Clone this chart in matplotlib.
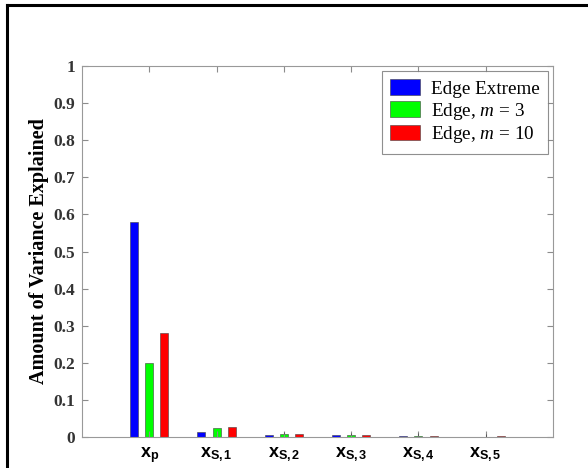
import numpy as np
import matplotlib
matplotlib.use('Agg')
import matplotlib.pyplot as plt
from matplotlib.lines import Line2D

## fonts: serif for numbers/legend, sans bold for the x tick labels
plt.rcParams['font.family'] = 'Liberation Serif'
plt.rcParams['mathtext.fontset'] = 'custom'
plt.rcParams['mathtext.bf'] = 'Liberation Sans:bold'
plt.rcParams['mathtext.it'] = 'Liberation Serif:italic'
plt.rcParams['mathtext.rm'] = 'Liberation Serif'

## data
categories = [r'$\mathbf{x}_{\mathbf{p}}$', r'$\mathbf{x}_{\mathbf{S,1}}$', r'$\mathbf{x}_{\mathbf{S,2}}$',
              r'$\mathbf{x}_{\mathbf{S,3}}$', r'$\mathbf{x}_{\mathbf{S,4}}$', r'$\mathbf{x}_{\mathbf{S,5}}$']
edge_extreme = [0.58, 0.014, 0.006, 0.005, 0.002, 0.001]
edge_m3      = [0.20, 0.025, 0.008, 0.006, 0.004, 0.001]
edge_m10     = [0.28, 0.028, 0.008, 0.005, 0.004, 0.004]
m3_err       = [0.0, 0.0, 0.006, 0.006, 0.006, 0.008]
series_names = ['Edge Extreme', r'Edge, $m$ = 3', r'Edge, $m$ = 10']
yticks = np.arange(0, 1.01, 0.1)
ytick_labels = ['0', '0.1', '0.2', '0.3', '0.4', '0.5', '0.6', '0.7', '0.8', '0.9', '1']

x = np.arange(1, len(categories)+1)
w = 0.12   # bar width
off = 0.225  # group offset

fig = plt.figure(figsize=(5.88, 4.68), dpi=100)
ax = fig.add_axes([0.1395, 0.0662, 0.801, 0.7927])

ax.bar(x-off, edge_extreme, w, color='#0000ff', edgecolor='0.25', lw=0.4, label=series_names[0])
ax.bar(x, edge_m3, w, color='#00ff00', edgecolor='0.25', lw=0.4, label=series_names[1])
ax.bar(x+off, edge_m10, w, color='#ff0000', edgecolor='0.25', lw=0.4, label=series_names[2])
ax.errorbar(x, edge_m3, yerr=[np.zeros(len(x)), m3_err], fmt='none', ecolor='0.3', lw=0.6, capsize=0)

ax.set_xlim(0, 7)
ax.set_ylim(0, 1)
ax.set_xticks(x)
ax.set_xticklabels(categories, fontsize=13)
ax.set_yticks(yticks)
ax.set_yticklabels(ytick_labels, fontsize=12.5, fontweight='bold', color='0.2')
ax.tick_params(direction='in', top=True, right=True, color='0.55', length=4)
ax.tick_params(axis='x', pad=6)
ax.tick_params(axis='y', pad=5)
for s in ax.spines.values():
    s.set_color('0.6')
ax.set_ylabel('Amount of Variance Explained', fontsize=14.5, fontweight='bold', labelpad=3)

leg = ax.legend(loc='upper right', fontsize=13.8, frameon=True, fancybox=False,
                handlelength=1.55, handleheight=0.85, borderpad=0.45, labelspacing=0.15,
                handletextpad=0.57, borderaxespad=0.25)
leg.get_frame().set_edgecolor('0.45')
leg.get_frame().set_linewidth(0.8)

## outer black frame (left and top edges visible)
fig.add_artist(Line2D([7/588, 7/588], [0, 1-5/468], color='black', lw=2.2, transform=fig.transFigure))
fig.add_artist(Line2D([7/588, 1], [1-5/468, 1-5/468], color='black', lw=2.2, transform=fig.transFigure))

fig.savefig('out.png', dpi=100)
